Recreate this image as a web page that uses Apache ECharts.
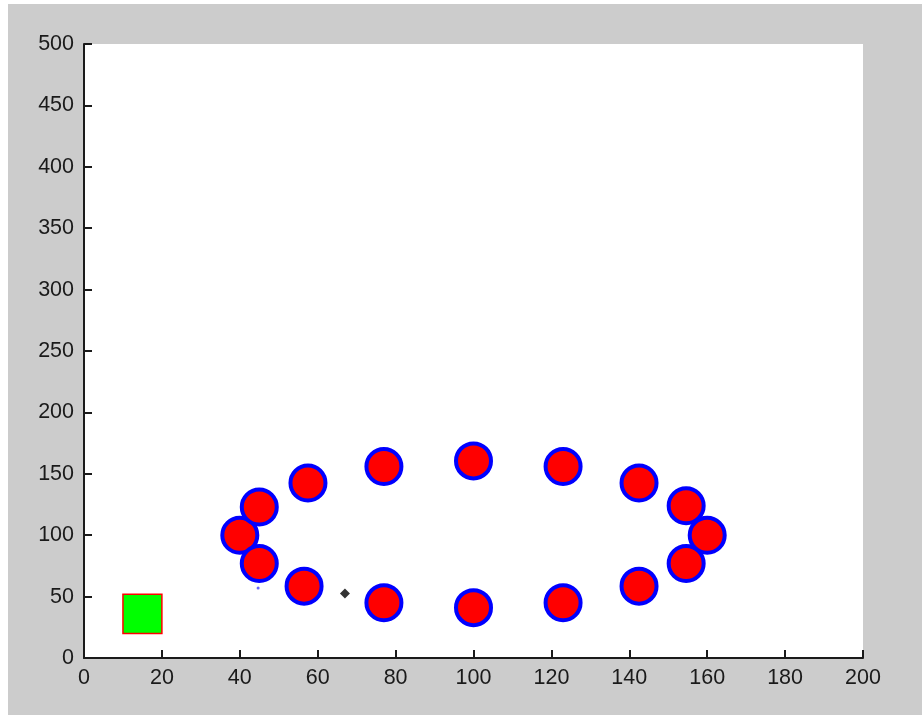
<!DOCTYPE html>
<html>
<head>
<meta charset="utf-8">
<script src="https://cdn.jsdelivr.net/npm/echarts@6/dist/echarts.min.js"></script>
<style>
html,body{margin:0;padding:0;background:#fff;}
#c{width:922px;height:715px;}
</style>
</head>
<body>
<div id="c"></div>
<script>
// Circle centers (red fill, blue edge)
const circleX = [40, 45, 45, 57.5, 56.5, 77, 77, 100, 100, 123, 123, 142.5, 142.5, 154.6, 154.6, 160];
const circleY = [100, 123, 77, 142.5, 58.5, 156, 45, 160.5, 41, 156, 45, 142.5, 58.5, 124, 77, 100];
// Small black diamond
const dotX = [67];
const dotY = [52.5];
// Tiny blue point
const blueX = [44.7];
const blueY = [57];
// Green rectangle corners [x0, y0, x1, y1]
const rectBox = [10, 20, 20, 52];
// Axis ticks
const xTicks = [0, 200, 20];
const yTicks = [0, 500, 50];

const chart = echarts.init(document.getElementById('c'));
const axisColor = '#1a1a1a';
chart.setOption({
  backgroundColor: '#cccccc',
  animation: false,
  graphic: [
    {type: 'rect', shape: {x: 0, y: 0, width: 8, height: 715}, style: {fill: '#ffffff'}, z: -1},
    {type: 'rect', shape: {x: 0, y: 0, width: 922, height: 4}, style: {fill: '#ffffff'}, z: -1}
  ],
  grid: {left: 84, right: 59, top: 44, bottom: 57, show: true, backgroundColor: '#ffffff', borderWidth: 0},
  xAxis: {
    type: 'value', min: xTicks[0], max: xTicks[1], interval: xTicks[2],
    splitLine: {show: false},
    axisLine: {lineStyle: {color: axisColor, width: 2}},
    axisTick: {inside: true, length: 8, lineStyle: {color: axisColor, width: 2}},
    axisLabel: {color: '#1a1a1a', fontSize: 21.5, fontFamily: 'Liberation Sans, Arial', margin: 9}
  },
  yAxis: {
    type: 'value', min: yTicks[0], max: yTicks[1], interval: yTicks[2],
    splitLine: {show: false},
    axisLine: {show: true, lineStyle: {color: axisColor, width: 2}},
    axisTick: {show: true, inside: true, length: 8, lineStyle: {color: axisColor, width: 2}},
    axisLabel: {color: '#1a1a1a', fontSize: 21.5, fontFamily: 'Liberation Sans, Arial', margin: 10}
  },
  series: [
    {
      type: 'custom',
      renderItem: function (params, api) {
        const p0 = api.coord([rectBox[0], rectBox[3]]);
        const p1 = api.coord([rectBox[2], rectBox[1]]);
        return {
          type: 'rect',
          shape: {x: p0[0], y: p0[1], width: p1[0] - p0[0], height: p1[1] - p0[1]},
          style: {fill: '#00ff00', stroke: '#ff0000', lineWidth: 1.5}
        };
      },
      data: [[rectBox[0], rectBox[1]]]
    },
    {
      type: 'scatter',
      symbol: 'circle',
      symbolSize: 35,
      itemStyle: {color: '#ff0000', borderColor: '#0000ff', borderWidth: 4, opacity: 1},
      data: circleX.map((x, i) => [x, circleY[i]])
    },
    {
      type: 'scatter',
      symbol: 'diamond',
      symbolSize: 10,
      itemStyle: {color: '#000000'},
      data: dotX.map((x, i) => [x, dotY[i]])
    },
    {
      type: 'scatter',
      symbol: 'circle',
      symbolSize: 3,
      itemStyle: {color: '#4040ff'},
      data: blueX.map((x, i) => [x, blueY[i]])
    }
  ]
});
</script>
</body>
</html>
